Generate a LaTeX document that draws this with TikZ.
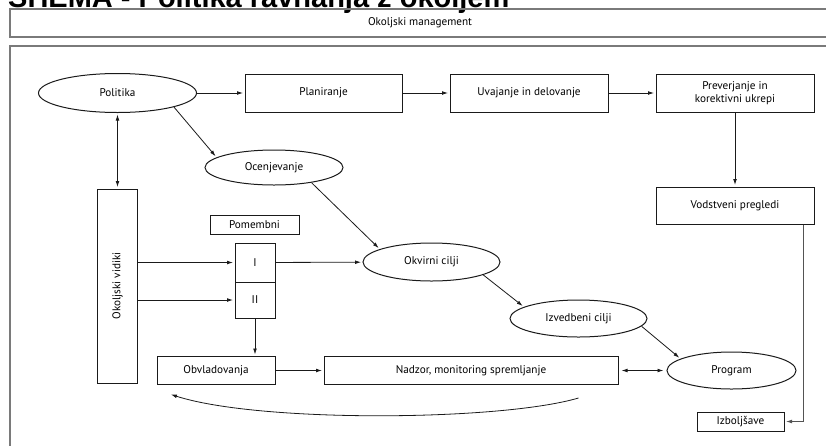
\documentclass[tikz,border=0pt]{standalone}
\usepackage{fontspec}
\setmainfont{PT Sans}
\newfontfamily\naslovfont{Liberation Sans}
\usetikzlibrary{arrows.meta,shapes.geometric}
\definecolor{Siva}{HTML}{7A7A7A}
\definecolor{Crna}{HTML}{1A1A1A}

\begin{document}
\begin{tikzpicture}[x=1pt,y=-1pt,
    every node/.style={font=\fontsize{11.2}{13}\selectfont,align=center,inner sep=0pt},
    okvir/.style={draw=Siva,line width=1.4pt},
    skatla/.style={draw=Crna,line width=1pt,minimum width=158pt,minimum height=38pt},
    elipsa/.style={ellipse,draw=Crna,line width=1pt,minimum width=137pt,minimum height=37pt},
    puscica/.style={draw=Crna,line width=0.8pt,-{Latex[length=6pt,width=3.8pt]},shorten >=1.5pt},
    dvosmerna/.style={puscica,{Latex[length=6pt,width=3.8pt]}-{Latex[length=6pt,width=3.8pt]},shorten <=1.5pt}
  ]
  \useasboundingbox (0,0) rectangle (826,445);
  \clip (0,0) rectangle (826,445);
  % naslov in okvirja
  \node[anchor=base west,font=\naslovfont\bfseries\fontsize{29}{29}\selectfont] (naslov) at (8,7) {SHEMA - Politika ravnanja z okoljem};
  \node[okvir,minimum width=820pt,minimum height=28pt] (management) at (420,23) {Okoljski management};
  \draw[okvir] (10,46) rectangle (840,470);
  % zgornja vrsta
  \node[elipsa,minimum width=158pt,minimum height=39pt] (politika) at (117.5,93) {Politika};
  \node[skatla,minimum width=157pt] (planiranje) at (323.5,93) {Planiranje};
  \node[skatla] (uvajanje) at (529,93) {Uvajanje in delovanje};
  \node[skatla] (preverjanje) at (735,93) {Preverjanje in\\korektivni ukrepi};
  \node[skatla,minimum height=37pt] (vodstveni) at (735,205.5) {Vodstveni pregledi};
  \node[skatla,minimum width=87pt,minimum height=19pt] (izboljsave) at (740.5,421.5) {Izboljšave};
  % cilji
  \node[elipsa,minimum width=138pt,minimum height=35pt] (ocenjevanje) at (274,167.5) {Ocenjevanje};
  \node[elipsa,minimum height=38pt] (okvirni) at (431.5,262) {Okvirni cilji};
  \node[elipsa] (izvedbeni) at (578.5,318.5) {Izvedbeni cilji};
  \node[elipsa,minimum width=129pt] (program) at (731.5,370.5) {Program};
  % levi del
  \node[skatla,minimum width=40pt,minimum height=194pt] (vidiki) at (117.5,286) {\rotatebox{90}{Okoljski vidiki}};
  \node[skatla,minimum width=89pt,minimum height=19pt] (pomembni) at (254.5,224.5) {Pomembni};
  \node[skatla,minimum width=40pt,minimum height=39pt] (prvi) at (255,262.5) {I};
  \node[skatla,minimum width=40pt,minimum height=36pt] (drugi) at (255,300) {II};
  \node[skatla,minimum width=118pt,minimum height=28pt] (obvladovanja) at (216,370.5) {Obvladovanja};
  \node[skatla,minimum width=294pt,minimum height=28pt] (nadzor) at (471,370.5) {Nadzor, monitoring spremljanje};

  \draw[puscica] (politika) -- (planiranje);
  \draw[puscica] (planiranje) -- (uvajanje);
  \draw[puscica] (uvajanje) -- (preverjanje);
  \draw[puscica] (preverjanje) -- (vodstveni);
  \draw[puscica,draw=Crna!75] ([xshift=-11pt]vodstveni.south east) |- (izboljsave.east);
  \draw[dvosmerna] (politika) -- (vidiki);
  \draw[puscica] (politika.-14) -- (ocenjevanje.170);
  \draw[puscica] (ocenjevanje.-22) -- (okvirni.166);
  \draw[puscica] (okvirni.-14) -- (izvedbeni.168);
  \draw[puscica] (izvedbeni.-7) -- (program.167);
  \draw[puscica] (vidiki.east |- prvi) -- (prvi);
  \draw[puscica] (vidiki.east |- drugi) -- (drugi);
  \draw[puscica] (prvi) -- (okvirni);
  \draw[puscica] (drugi.south) -- (drugi.south |- obvladovanja.north);
  \draw[puscica] (obvladovanja) -- (nadzor);
  \draw[dvosmerna,shorten <=3pt,shorten >=3pt] (nadzor) -- (program);
  \draw[puscica] ([shift={(-40,13)}]nadzor.south east) .. controls +(-78,23) and +(90,29) .. ([shift={(13,9)}]obvladovanja.south west);
\end{tikzpicture}
\end{document}
